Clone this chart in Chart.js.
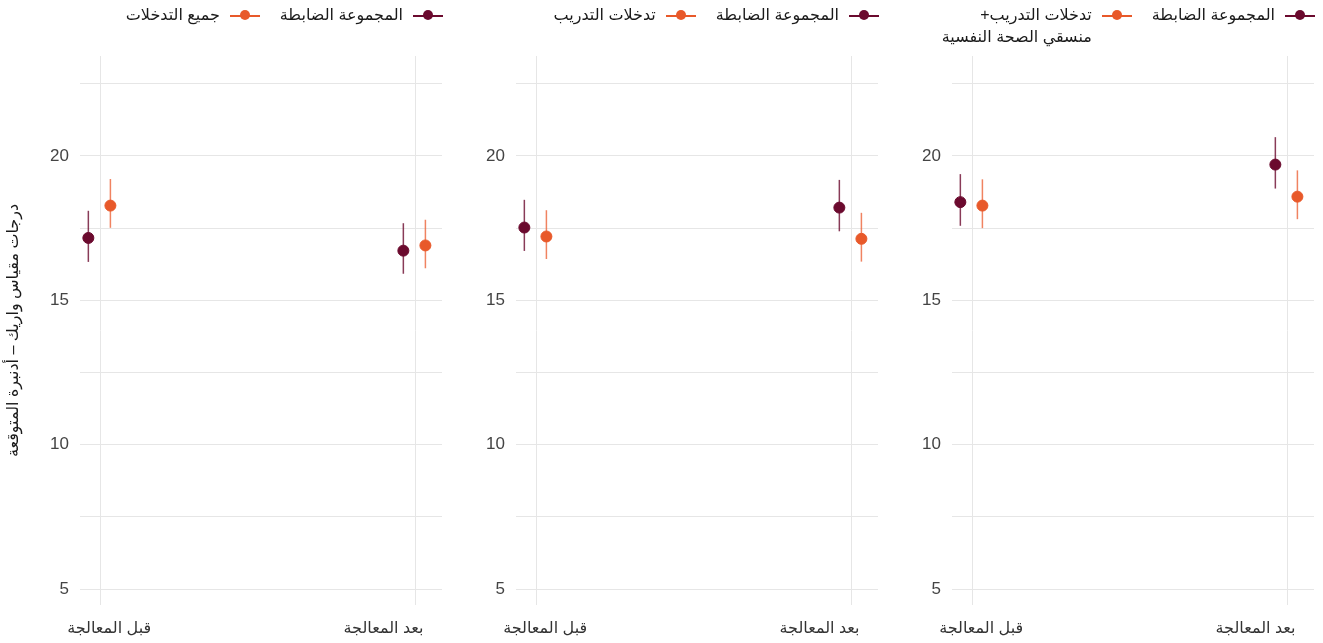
<!DOCTYPE html>
<html lang="ar">
<head>
<meta charset="utf-8">
<script src="https://cdn.jsdelivr.net/npm/chart.js@4.4.1/dist/chart.umd.min.js"></script>
<style>
  body { margin: 0; background: #fff; width: 1323px; height: 643px; position: relative; overflow: hidden;
         font-family: 'Liberation Sans', 'DejaVu Sans', sans-serif; }
  canvas { position: absolute; top: 0; }
  .legend { position: absolute; top: 4px; display: flex; direction: rtl; align-items: flex-start;
            font-size: 16px; color: #1a1a1a; line-height: 22px; }
  .item { display: flex; align-items: flex-start; margin-left: 20px; }
  .item:last-child { margin-left: 0; }
  .key { width: 30px; height: 22px; position: relative; margin-left: 10px; flex: none; }
  .key .ln { position: absolute; left: 0; right: 0; top: 11px; height: 1.5px; }
  .key .dot { position: absolute; left: 10px; top: 6px; width: 10px; height: 10px; border-radius: 50%; }
  .txt { white-space: pre; text-align: right; }
</style>
</head>
<body>
<canvas id="panel-0" width="480" height="643" style="left:0px"></canvas>
<canvas id="panel-1" width="480" height="643" style="left:440px"></canvas>
<canvas id="panel-2" width="443" height="643" style="left:880px"></canvas>
<script>
// categories and series names
const categories = ['قبل المعالجة', 'بعد المعالجة'];
const controlName = 'المجموعة الضابطة';
const interventionNames = ['جميع التدخلات', 'تدخلات التدريب', 'تدخلات التدريب+\nمنسقي الصحة النفسية'];
const yTitle = 'درجات مقياس واريك – أدنبرة المتوقعة';
const yTicks = [5, 10, 15, 20];

// values per panel: [pre, post]
const controlMean = [[17.16, 16.72], [17.52, 18.21], [18.40, 19.70]];
const controlLow = [[16.33, 15.92], [16.71, 17.39], [17.58, 18.87]];
const controlHigh = [[18.10, 17.67], [18.48, 19.17], [19.37, 20.65]];
const interventionMean = [[18.28, 16.90], [17.21, 17.13], [18.28, 18.59]];
const interventionLow = [[17.51, 16.11], [16.43, 16.34], [17.50, 17.81]];
const interventionHigh = [[19.20, 17.79], [18.12, 18.03], [19.19, 19.50]];

// styles
const controlColor = '#6b0a2e';
const controlBarColor = 'rgba(107, 10, 46, 0.8)';
const interventionColor = '#e8592a';
const interventionBarColor = 'rgba(236, 100, 58, 0.8)';
const gridColor = '#e6e6e6';
const fontFamily = "'Liberation Sans', 'DejaVu Sans', sans-serif";
const dodge = { control: -0.037, intervention: 0.033 };
const xLabelShift = [0.029, -0.10];

// canvas layout for each panel
const panelLayout = [
  { canvasLeft: 0, canvasWidth: 480, yWidth: 80, padRight: 38 },
  { canvasLeft: 440, canvasWidth: 480, yWidth: 76, padRight: 42 },
  { canvasLeft: 880, canvasWidth: 443, yWidth: 72, padRight: 9 },
];

function errorBar(x, lo, hi, color) {
  return {
    type: 'line',
    data: [{ x: x, y: lo }, { x: x, y: hi }],
    borderColor: color,
    borderWidth: 1.5,
    pointRadius: 0,
    showLine: true,
    xAxisID: 'x',
    yAxisID: 'y',
  };
}

function createLegend(p) {
  const lay = panelLayout[p];
  const chartRight = lay.canvasLeft + lay.canvasWidth - lay.padRight;
  const div = document.createElement('div');
  div.className = 'legend';
  div.style.right = (1323 - chartRight - 1) + 'px';
  [[controlName, controlColor], [interventionNames[p], interventionColor]].forEach(([name, color]) => {
    const item = document.createElement('div');
    item.className = 'item';
    item.innerHTML = `<div class="key"><div class="ln" style="background:${color}"></div>` +
      `<div class="dot" style="background:${color}"></div></div><div class="txt"></div>`;
    item.querySelector('.txt').textContent = name;
    div.appendChild(item);
  });
  document.body.appendChild(div);
}

function createPanel(p) {
  const lay = panelLayout[p];
  const ctx = document.getElementById('panel-' + p).getContext('2d');

  const datasets = [
    {
      label: controlName,
      data: categories.map((c, i) => ({ x: i + 1 + dodge.control, y: controlMean[p][i] })),
      backgroundColor: controlColor,
      borderColor: controlColor,
      pointRadius: 5.5,
      xAxisID: 'x',
      yAxisID: 'y',
    },
    {
      label: interventionNames[p],
      data: categories.map((c, i) => ({ x: i + 1 + dodge.intervention, y: interventionMean[p][i] })),
      backgroundColor: interventionColor,
      borderColor: interventionColor,
      pointRadius: 5.5,
      xAxisID: 'x',
      yAxisID: 'y',
    },
  ];
  categories.forEach((c, i) => {
    datasets.push(errorBar(i + 1 + dodge.control, controlLow[p][i], controlHigh[p][i], controlBarColor));
    datasets.push(errorBar(i + 1 + dodge.intervention, interventionLow[p][i], interventionHigh[p][i], interventionBarColor));
  });

  return new Chart(ctx, {
    type: 'scatter',
    data: { datasets: datasets },
    options: {
      responsive: false,
      animation: false,
      layout: { padding: { top: 56, right: lay.padRight, left: 0, bottom: 0 } },
      plugins: { legend: { display: false }, tooltip: { enabled: false } },
      scales: {
        x: {
          type: 'linear',
          position: 'bottom',
          min: 0.9365,
          max: 2.0857,
          afterBuildTicks: (scale) => { scale.ticks = categories.map((c, i) => ({ value: i + 1 })); },
          afterFit: (scale) => { scale.height = 0; },
          ticks: { display: false },
          grid: { color: gridColor, lineWidth: 1, drawTicks: false },
          border: { display: false },
        },
        xl: {
          type: 'linear',
          axis: 'x',
          position: 'bottom',
          min: 0.9365,
          max: 2.0857,
          afterBuildTicks: (scale) => { scale.ticks = categories.map((c, i) => ({ value: i + 1 + xLabelShift[i] })); },
          afterFit: (scale) => { scale.height = 38; },
          ticks: {
            callback: (v, idx) => categories[idx],
            color: '#333333',
            font: { family: fontFamily, size: 16 },
            padding: 14,
            maxRotation: 0,
          },
          grid: { display: false, drawTicks: false },
          border: { display: false },
        },
        y: {
          min: 4.45,
          max: 23.46,
          afterFit: (scale) => { scale.width = lay.yWidth; },
          ticks: {
            stepSize: 2.5,
            includeBounds: false,
            autoSkip: false,
            padding: 11,
            color: '#444444',
            font: { family: fontFamily, size: 17 },
            callback: (v) => (yTicks.includes(v) ? v : ''),
          },
          grid: { color: gridColor, lineWidth: 1, drawTicks: false },
          border: { display: false },
          title: {
            display: p === 0,
            text: yTitle,
            color: '#1a1a1a',
            font: { family: fontFamily, size: 16 },
            padding: { top: 4, bottom: 4 },
          },
        },
      },
    },
  });
}

const charts = panelLayout.map((lay, p) => createPanel(p));
panelLayout.forEach((lay, p) => createLegend(p));
</script>
</body>
</html>
